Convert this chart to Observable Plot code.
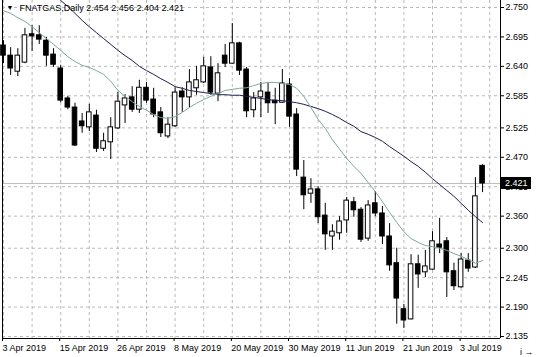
<!DOCTYPE html>
<html><head><meta charset="utf-8">
<script src="https://cdn.jsdelivr.net/npm/d3@7"></script>
<script src="https://cdn.jsdelivr.net/npm/@observablehq/plot@0.6"></script>
<style>
html,body{margin:0;padding:0;background:#fff;}
#chart{position:relative;width:536px;height:357px;overflow:hidden;}
svg{display:block}
#price{position:absolute;background:#000;color:#fff;font:9px 'Liberation Sans',Arial,sans-serif;line-height:12px;height:12px;width:30px;box-sizing:border-box;padding-left:4px;}
</style></head><body><div id="chart"></div>
<script>
const symbol = "FNATGAS,Daily";
const opens = [2.679,2.660,2.630,2.647,2.700,2.698,2.688,2.662,2.636,2.580,
2.563,2.537,2.526,2.548,2.486,2.498,2.524,2.567,2.582,2.559,
2.600,2.578,2.554,2.509,2.528,2.593,2.582,2.599,2.610,2.638,
2.589,2.660,2.645,2.683,2.634,2.558,2.582,2.591,2.576,2.572,
2.606,2.550,2.432,2.402,2.410,2.361,2.322,2.328,2.352,2.386,
2.372,2.318,2.384,2.365,2.322,2.272,2.186,2.167,2.270,2.255,
2.260,2.307,2.313,2.257,2.227,2.277,2.264,2.454];
const highs = [2.688,2.675,2.673,2.711,2.716,2.716,2.694,2.673,2.642,2.584,
2.571,2.552,2.569,2.558,2.515,2.544,2.591,2.587,2.602,2.614,
2.610,2.599,2.563,2.544,2.600,2.600,2.634,2.640,2.657,2.658,
2.645,2.681,2.720,2.685,2.638,2.591,2.610,2.608,2.599,2.634,
2.617,2.561,2.464,2.430,2.415,2.384,2.344,2.359,2.395,2.395,
2.376,2.389,2.406,2.378,2.346,2.300,2.195,2.288,2.287,2.296,
2.331,2.356,2.320,2.272,2.290,2.290,2.432,2.456];
const lows = [2.645,2.623,2.621,2.645,2.668,2.681,2.640,2.638,2.572,2.559,
2.490,2.515,2.518,2.479,2.481,2.466,2.522,2.533,2.554,2.552,
2.571,2.544,2.507,2.505,2.526,2.554,2.563,2.586,2.608,2.586,
2.574,2.638,2.644,2.623,2.544,2.544,2.544,2.552,2.531,2.571,
2.526,2.434,2.372,2.384,2.346,2.296,2.296,2.315,2.328,2.358,
2.311,2.313,2.359,2.307,2.257,2.158,2.150,2.166,2.225,2.245,
2.259,2.290,2.208,2.221,2.225,2.255,2.262,2.404];
const closes = [2.660,2.636,2.660,2.698,2.696,2.690,2.660,2.643,2.576,2.563,
2.492,2.528,2.554,2.486,2.500,2.526,2.574,2.580,2.559,2.600,
2.576,2.550,2.515,2.531,2.591,2.582,2.610,2.614,2.640,2.591,
2.627,2.645,2.683,2.632,2.556,2.580,2.593,2.571,2.571,2.608,
2.546,2.447,2.399,2.410,2.358,2.326,2.331,2.350,2.389,2.371,
2.316,2.380,2.365,2.322,2.268,2.206,2.165,2.270,2.251,2.266,
2.313,2.301,2.255,2.229,2.279,2.262,2.397,2.421];
// short moving average (grey-green), bars 0..67
const maFast = [2.744,2.739,2.731,2.724,2.714,2.703,2.692,2.681,2.670,2.658,
2.649,2.642,2.638,2.632,2.625,2.612,2.595,2.584,2.574,2.565,
2.558,2.550,2.544,2.543,2.546,2.554,2.563,2.571,2.578,2.584,
2.589,2.595,2.597,2.599,2.600,2.604,2.608,2.610,2.610,2.608,
2.606,2.599,2.584,2.563,2.541,2.524,2.503,2.485,2.468,2.453,
2.440,2.423,2.406,2.387,2.367,2.348,2.331,2.318,2.311,2.305,
2.303,2.300,2.296,2.290,2.285,2.279,2.272,2.277];
// long moving average (dark navy), bars 8..67
const maSlowStart = 8;
const maSlow = [2.763,2.752,2.739,2.726,2.714,2.703,2.692,2.681,2.670,2.660,
2.651,2.640,2.632,2.625,2.617,2.610,2.602,2.599,2.595,2.593,
2.591,2.589,2.587,2.587,2.586,2.586,2.584,2.582,2.580,2.578,
2.576,2.576,2.574,2.572,2.569,2.565,2.561,2.556,2.550,2.543,
2.535,2.528,2.518,2.513,2.507,2.500,2.490,2.481,2.472,2.462,
2.453,2.442,2.430,2.419,2.408,2.397,2.384,2.371,2.359,2.348];
const xTickBars = [0,8,16,24,32,40,48,56,64];
const xTickLabels = ["3 Apr 2019","15 Apr 2019","26 Apr 2019","8 May 2019","20 May 2019","30 May 2019","11 Jun 2019","21 Jun 2019","3 Jul 2019"];
const yTickLabels = ["2.750","2.695","2.640","2.585","2.525","2.470","2.415","2.360","2.300","2.245","2.190","2.135"];

const candles = opens.map((o,i)=>({i, open:o, high:highs[i], low:lows[i], close:closes[i]}));
const fast = maFast.map((v,i)=>({i, v}));
const slow = maSlow.map((v,k)=>({i:k+maSlowStart, v}));
const last = candles[candles.length-1];
const f3 = d3.format(".3f");
const title = `${symbol} ${f3(last.open)} ${f3(last.high)} ${f3(last.low)} ${f3(last.close)}`;
const yTicks = yTickLabels.map(Number);
const yLab = new Map(yTicks.map((v,k)=>[v,yTickLabels[k]]));
const xLab = new Map(xTickBars.map((v,k)=>[v,xTickLabels[k]]));

const W=536, H=357, mL=2, mR=36, mT=0, mB=19;
const xDom = [-0.14, 69.51];
const yDom = [2.1313, 2.7631];
const grid = {stroke:"#b9b9b9", strokeOpacity:1, strokeDasharray:"3,3"};
const chart = Plot.plot({
  width: W, height: H,
  marginLeft: mL, marginRight: mR, marginTop: mT, marginBottom: mB,
  style: "font-family:'Liberation Sans',Arial,sans-serif;font-size:9px;background:#fff;color:#000;",
  x: {type:"linear", domain: xDom},
  y: {type:"linear", domain: yDom},
  marks: [
    Plot.gridY(yTicks, grid),
    Plot.gridX(d3.range(0, 69, 4), grid),
    Plot.ruleY([last.close], {stroke:"#bdbdbd"}),
    Plot.ruleX(candles, {x:"i", y1:"low", y2:"high", stroke:"#000"}),
    Plot.rect(candles.filter(d=>d.close>=d.open), {x1:d=>d.i-0.32, x2:d=>d.i+0.32, y1:"open", y2:"close", fill:"#fff", stroke:"#000"}),
    Plot.rect(candles.filter(d=>d.close<d.open), {x1:d=>d.i-0.32, x2:d=>d.i+0.32, y1:"open", y2:"close", fill:"#000", stroke:"#000"}),
    Plot.line(slow, {x:"i", y:"v", stroke:"#1e1e50", strokeWidth:1, clip:true}),
    Plot.line(fast, {x:"i", y:"v", stroke:"#7fa898", strokeWidth:1, clip:true}),
    Plot.ruleX([xDom[0]], {stroke:"#000"}),
    Plot.ruleX([xDom[1]], {stroke:"#000"}),
    Plot.ruleY([yDom[0]], {stroke:"#000"}),
    Plot.axisY(yTicks, {anchor:"right", tickSize:3, tickPadding:2, tickFormat:d=>yLab.get(d)}),
    Plot.axisX(xTickBars, {anchor:"bottom", tickSize:3, tickPadding:3, tickFormat:d=>xLab.get(d), textAnchor:"start", dx:-1}),
    Plot.text(["▼"], {frameAnchor:"top-left", dx:4, dy:5, fontSize:7, lineAnchor:"top", textAnchor:"start"}),
    Plot.text([title], {frameAnchor:"top-left", dx:17, dy:4, lineAnchor:"top", textAnchor:"start"})
  ]
});
const host = document.getElementById("chart");
host.appendChild(chart);
// current price label on the right axis, positioned with the chart's y scale
let py;
try { py = chart.scale("y").apply(last.close); } catch(e) { py = NaN; }
if (!isFinite(py)) py = d3.scaleLinear(yDom, [H-mB, mT])(last.close);
const lab = document.createElement("div");
lab.id = "price";
lab.textContent = f3(last.close);
lab.style.left = (W - mR + 1) + "px";
lab.style.top = Math.round(py - 6) + "px";
host.appendChild(lab);
</script></body></html>
